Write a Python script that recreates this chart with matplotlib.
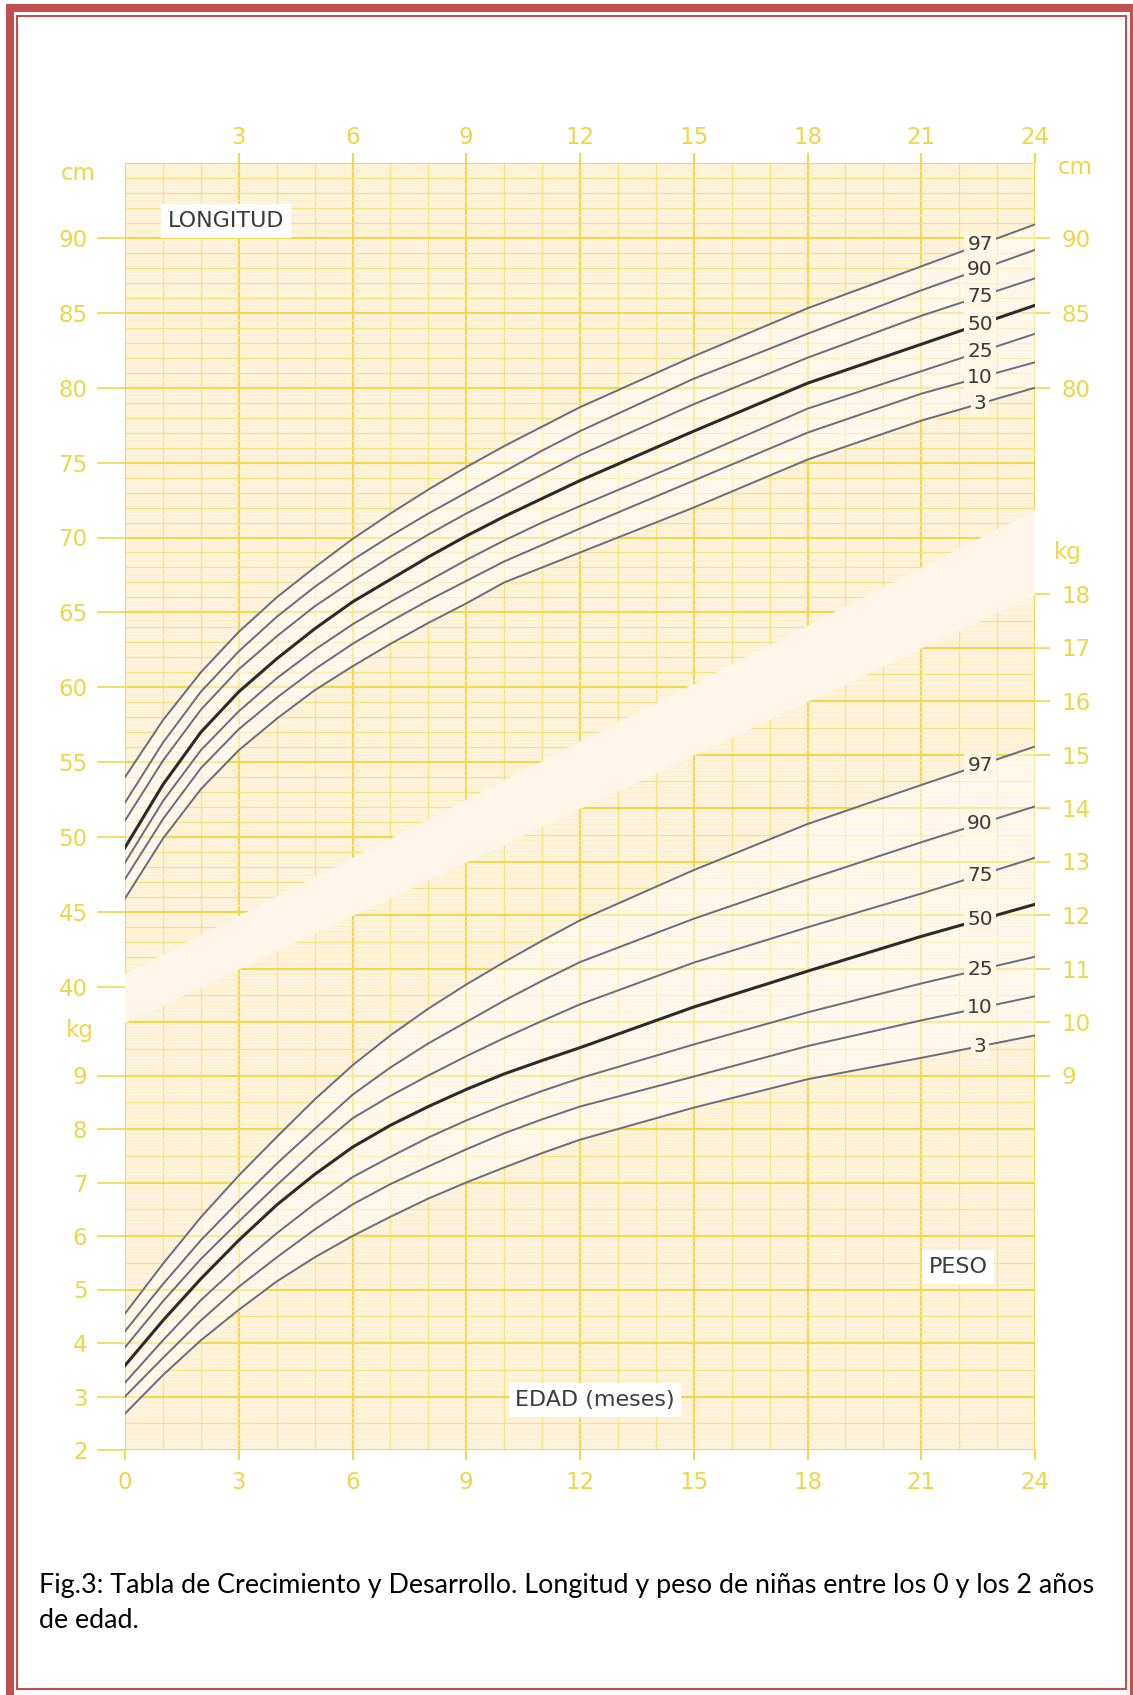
import numpy as np
import matplotlib.pyplot as plt
from matplotlib.patches import Polygon, Rectangle

# edad en meses
meses = [0, 1, 2, 3, 4, 5, 6, 7, 8, 9, 10, 11, 12, 15, 18, 21, 24]
percentiles = ["97", "90", "75", "50", "25", "10", "3"]

# longitud (cm) por percentil
long_p97 = [54.0, 57.8, 61.0, 63.7, 66.0, 68.0, 69.9, 71.6, 73.2, 74.7, 76.1, 77.4, 78.7, 82.1, 85.3, 88.1, 90.9]
long_p90 = [52.3, 56.3, 59.7, 62.4, 64.7, 66.7, 68.5, 70.1, 71.6, 73.0, 74.4, 75.8, 77.1, 80.6, 83.6, 86.5, 89.2]
long_p75 = [51.1, 55.1, 58.5, 61.2, 63.4, 65.4, 67.1, 68.7, 70.2, 71.6, 72.9, 74.2, 75.5, 78.9, 82.0, 84.8, 87.3]
long_p50 = [49.3, 53.5, 57.0, 59.7, 61.9, 63.9, 65.7, 67.2, 68.7, 70.1, 71.4, 72.6, 73.8, 77.1, 80.3, 82.9, 85.5]
long_p25 = [48.3, 52.4, 55.8, 58.4, 60.6, 62.5, 64.2, 65.7, 67.1, 68.5, 69.8, 71.0, 72.1, 75.3, 78.6, 81.1, 83.6]
long_p10 = [47.2, 51.2, 54.6, 57.2, 59.3, 61.2, 62.9, 64.4, 65.8, 67.1, 68.4, 69.5, 70.6, 73.8, 77.0, 79.6, 81.7]
long_p3 = [45.9, 49.9, 53.2, 55.8, 57.9, 59.8, 61.4, 62.9, 64.3, 65.6, 67.0, 68.0, 69.0, 72.0, 75.2, 77.8, 80.0]

# peso (kg) por percentil
peso_p97 = [4.55, 5.48, 6.35, 7.13, 7.85, 8.55, 9.19, 9.75, 10.25, 10.7, 11.12, 11.52, 11.9, 12.84, 13.70, 14.43, 15.15]
peso_p90 = [4.22, 5.1, 5.92, 6.65, 7.35, 8.0, 8.64, 9.15, 9.6, 10.0, 10.4, 10.77, 11.12, 11.93, 12.66, 13.36, 14.03]
peso_p75 = [3.92, 4.78, 5.57, 6.27, 6.95, 7.6, 8.2, 8.62, 9.0, 9.36, 9.7, 10.02, 10.33, 11.11, 11.77, 12.40, 13.07]
peso_p50 = [3.58, 4.42, 5.2, 5.92, 6.58, 7.15, 7.66, 8.07, 8.42, 8.74, 9.03, 9.28, 9.52, 10.28, 10.95, 11.60, 12.20]
peso_p25 = [3.26, 4.05, 4.8, 5.45, 6.05, 6.6, 7.1, 7.48, 7.84, 8.16, 8.45, 8.71, 8.95, 9.58, 10.18, 10.72, 11.22]
peso_p10 = [3.0, 3.72, 4.42, 5.05, 5.6, 6.12, 6.59, 6.97, 7.3, 7.62, 7.92, 8.18, 8.42, 8.98, 9.55, 10.03, 10.48]
peso_p3 = [2.68, 3.4, 4.05, 4.62, 5.15, 5.6, 6.0, 6.36, 6.7, 7.0, 7.28, 7.55, 7.8, 8.4, 8.93, 9.33, 9.75]

longitud = [long_p97, long_p90, long_p75, long_p50, long_p25, long_p10, long_p3]
peso = [peso_p97, peso_p90, peso_p75, peso_p50, peso_p25, peso_p10, peso_p3]

W, H = 1133, 1695
RED = "#c0504d"
YEL = "#f3d84a"
YEL_MID = "#f7e37e"
YEL_LIGHT = "#fbefbc"
TXT_YEL = "#efd548"
BG = "#fdf3dc"
BAND = "#fef7e9"
CURVE = "#6a6b80"


def fx(px):
    return px / W


def fy(py):
    return 1 - py / H


fig = plt.figure(figsize=(W / 100, H / 100), dpi=100)
fig.patch.set_facecolor("white")

# marco rojo de la pagina
fig.add_artist(Rectangle((fx(10), fy(1697)), fx(1134) - fx(10), fy(8) - fy(1697),
                         fill=False, ec=RED, lw=5.8, transform=fig.transFigure))
fig.add_artist(Rectangle((fx(17), fy(1689)), fx(1126) - fx(17), fy(16) - fy(1689),
                         fill=False, ec=RED, lw=1.5, transform=fig.transFigure))

# ejes: kg abajo-izquierda, cm arriba (twin)
ax = fig.add_axes([fx(125), fy(1450), fx(1035) - fx(125), (1450 - 163) / H])
ax.set_xlim(0, 24)
ax.set_ylim(2, 2 + 1287 / 53.5)
ax.patch.set_facecolor(BG)
ax2 = ax.twinx()
ax2.set_ylim(95 - 1287 / 14.98, 95)

# franja diagonal entre las dos graficas (en kg)
band_top = (10.9, 19.57)
band_bot = (9.98, 17.98)
ytop = ax.get_ylim()[1]
clip_up = Polygon([(0, ytop), (24, ytop), (24, band_top[1]), (0, band_top[0])],
                  closed=True, transform=ax.transData)
clip_low = Polygon([(0, 2), (24, 2), (24, band_bot[1]), (0, band_bot[0])],
                   closed=True, transform=ax.transData)

# rejilla vertical (meses)
for m in range(25):
    ax.vlines(m, 2, ytop, colors=YEL if m % 3 == 0 else YEL_MID,
              lw=1.5 if m % 3 == 0 else 0.9, zorder=1)

# rejilla de cm
cm_vals = np.arange(70, 191) / 2
cm_col = [YEL if v % 5 == 0 else (YEL_MID if v % 1 == 0 else YEL_LIGHT) for v in cm_vals]
cm_lw = [1.5 if v % 5 == 0 else (0.9 if v % 1 == 0 else 0.7) for v in cm_vals]
lc = ax2.hlines(cm_vals, 0, 24, colors=cm_col, linewidths=cm_lw, zorder=1)
lc.set_clip_path(clip_up)

# rejilla de kg
kg_vals = np.arange(20, 201) / 10
kg_col = [YEL if abs(v - round(v)) < 1e-6 else (YEL_MID if abs(v * 2 - round(v * 2)) < 1e-6 else YEL_LIGHT)
          for v in kg_vals]
kg_lw = [1.5 if abs(v - round(v)) < 1e-6 else (0.9 if abs(v * 2 - round(v * 2)) < 1e-6 else 0.55)
         for v in kg_vals]
lc2 = ax.hlines(kg_vals, 0, 24, colors=kg_col, linewidths=kg_lw, zorder=1)
lc2.set_clip_path(clip_low)

ax.add_patch(Polygon([(0, band_bot[0]), (24, band_bot[1]), (24, band_top[1]), (0, band_top[0])],
                     closed=True, fc=BAND, ec="none", zorder=2))

# zona clara entre percentiles extremos
ax2.fill_between(meses, long_p3, long_p97, color="white", alpha=0.45, lw=0, zorder=3)
ax.fill_between(meses, peso_p3, peso_p97, color="white", alpha=0.45, lw=0, zorder=3)

# curvas
label_x = 22.55
lbl_box = dict(boxstyle="square,pad=0.15", fc="#fdf6e3", ec="none")
for name, vals in zip(percentiles, longitud):
    dark = name == "50"
    ax2.plot(meses, vals, color="#2b2b2b" if dark else CURVE, lw=2.2 if dark else 1.4, zorder=5)
    ax2.text(label_x, np.interp(label_x, meses, vals), name, ha="center", va="center",
             fontsize=14.5, color="#3a3a3a", bbox=lbl_box, zorder=6)
for name, vals in zip(percentiles, peso):
    dark = name == "50"
    ax.plot(meses, vals, color="#2b2b2b" if dark else CURVE, lw=2.2 if dark else 1.4, zorder=5)
    ax.text(label_x, np.interp(label_x, meses, vals), name, ha="center", va="center",
            fontsize=14.5, color="#3a3a3a", bbox=lbl_box, zorder=6)

# ticks y etiquetas de ejes
for a in (ax, ax2):
    for s in a.spines.values():
        s.set_visible(False)

ax.set_xticks(range(0, 25, 3))
ax.tick_params(axis="x", length=7, width=1.5, color=YEL, labelcolor=TXT_YEL, labelsize=16.5, pad=8)
ax.set_yticks(range(2, 10))
ax.tick_params(axis="y", length=20, width=1.2, color=YEL, labelcolor=TXT_YEL, labelsize=16.5, pad=7)

ax2.yaxis.tick_left()
ax2.set_yticks(range(40, 91, 5))
ax2.tick_params(axis="y", length=20, width=1.2, color=YEL, labelcolor=TXT_YEL, labelsize=16.5, pad=7)

top = ax.secondary_xaxis("top")
top.set_xticks(range(3, 25, 3))
top.tick_params(length=7, width=1.5, color=YEL, labelcolor=TXT_YEL, labelsize=16.5, pad=3)

right_kg = ax.secondary_yaxis("right")
right_kg.set_yticks(range(9, 19))
right_kg.tick_params(length=11, width=1.2, color=YEL, labelcolor=TXT_YEL, labelsize=16.5, pad=8)

right_cm = ax2.secondary_yaxis("right")
right_cm.set_yticks([80, 85, 90])
right_cm.tick_params(length=11, width=1.2, color=YEL, labelcolor=TXT_YEL, labelsize=16.5, pad=8)

for a in (top, right_kg, right_cm):
    for s in a.spines.values():
        s.set_visible(False)

fig.text(fx(78), fy(173), "cm", color=TXT_YEL, fontsize=16.5, ha="center", va="center")
fig.text(fx(80), fy(1030), "kg", color=TXT_YEL, fontsize=16.5, ha="center", va="center")
fig.text(fx(1075), fy(167), "cm", color=TXT_YEL, fontsize=16.5, ha="center", va="center")
fig.text(fx(1068), fy(553), "kg", color=TXT_YEL, fontsize=16.5, ha="center", va="center")

# titulos de las graficas
tbox = dict(boxstyle="square,pad=0.3", fc="white", ec="none")
fig.text(fx(226), fy(221), "LONGITUD", color="#3c3c3c", fontsize=16, ha="center", va="center",
         bbox=tbox, zorder=10)
fig.text(fx(958), fy(1267), "PESO", color="#3c3c3c", fontsize=16, ha="center", va="center",
         bbox=tbox, zorder=10)
fig.text(fx(595), fy(1400), "EDAD (meses)", color="#3c3c3c", fontsize=16, ha="center", va="center",
         bbox=tbox, zorder=10)

# pie de figura
fig.text(fx(39), fy(1585),
         "Fig.3: Tabla de Crecimiento y Desarrollo. Longitud y peso de niñas entre los 0 y los 2 años",
         fontsize=19.4, family="Lato", color="black", ha="left", va="center")
fig.text(fx(39), fy(1621), "de edad.", fontsize=19.4, family="Lato", color="black",
         ha="left", va="center")

fig.savefig("out.png", dpi=100)
